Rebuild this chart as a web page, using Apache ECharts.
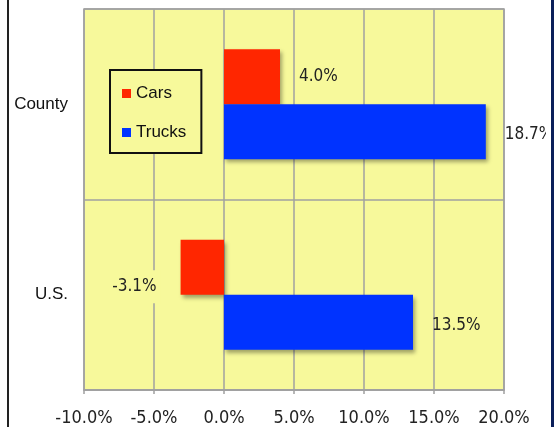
<!DOCTYPE html>
<html>
<head>
    <meta charset="utf-8">
    <title>County vs U.S.</title>
    <script src="https://cdn.jsdelivr.net/npm/echarts@6/dist/echarts.min.js"></script>
    <style>
        html, body { margin: 0; padding: 0; background: #fff; }
    </style>
</head>
<body>
    <div id="main" style="width: 557px;height:427px;"></div>
    <script type="text/javascript">
        // data
        var categories = ['U.S.', 'County'];
        var cars = [-3.1, 4.0];
        var trucks = [13.5, 18.7];
        var seriesNames = ['Cars', 'Trucks'];

        var yellow = '#F7F99B';
        var numFont = "'DejaVu Sans Condensed', 'DejaVu Sans', sans-serif";
        var textFont = "'Liberation Sans', Arial, sans-serif";
        var myChart = echarts.init(document.getElementById('main'));

        function pct(v) {
            return v.toFixed(1) + '%';
        }

        var barShadow = {
            shadowBlur: 4,
            shadowOffsetX: 2,
            shadowOffsetY: 3,
            shadowColor: 'rgba(0,0,0,0.35)'
        };

        var option = {
            backgroundColor: '#fff',
            animation: false,
            grid: {
                left: 84,
                right: 53,
                top: 9,
                bottom: 34,
                show: true,
                backgroundColor: yellow,
                borderColor: '#A0A0A0',
                borderWidth: 1.5
            },
            legend: {
                orient: 'vertical',
                left: 110,
                top: 70,
                data: seriesNames,
                icon: 'rect',
                itemWidth: 9,
                itemHeight: 9,
                itemGap: 22,
                padding: [15, 15, 12, 12],
                backgroundColor: yellow,
                borderColor: '#111',
                borderWidth: 2,
                selectedMode: false,
                textStyle: {
                    fontFamily: textFont,
                    fontSize: 17,
                    color: '#111'
                }
            },
            xAxis: {
                type: 'value',
                min: -10,
                max: 20,
                interval: 5,
                axisLine: { show: true, lineStyle: { color: '#A0A0A0', width: 1.5 } },
                axisTick: { show: true, length: 4, lineStyle: { color: '#A0A0A0', width: 1.5 } },
                splitLine: { show: true, lineStyle: { color: '#A0A0A0', width: 1.5 } },
                axisLabel: {
                    margin: 19,
                    fontFamily: numFont,
                    fontSize: 18,
                    color: '#222',
                    formatter: pct
                }
            },
            yAxis: {
                type: 'category',
                data: categories,
                axisLine: { show: false },
                axisTick: { show: false },
                splitLine: { show: true, lineStyle: { color: '#A0A0A0', width: 1.5 } },
                axisLabel: {
                    margin: 16,
                    fontFamily: textFont,
                    fontSize: 17,
                    color: '#111',
                    padding: [8, 0, 0, 0]
                }
            },
            series: [
                {
                    name: 'Cars',
                    type: 'bar',
                    data: cars,
                    barWidth: 55,
                    barGap: '0%',
                    itemStyle: Object.assign({ color: '#FF2600' }, barShadow),
                    label: {
                        show: true,
                        position: 'right',
                        distance: 15,
                        offset: [0, 3],
                        fontFamily: numFont,
                        fontSize: 17,
                        color: '#222',
                        backgroundColor: yellow,
                        padding: [8, 4],
                        formatter: function (p) { return pct(p.value); }
                    },
                    labelLayout: function (params) {
                        // negative value label goes to the left of the bar
                        if (params.dataIndex === 0) {
                            return { x: params.rect.x - 20 - params.labelRect.width, align: 'left' };
                        }
                    }
                },
                {
                    name: 'Trucks',
                    type: 'bar',
                    data: trucks,
                    barWidth: 55,
                    barGap: '0%',
                    itemStyle: Object.assign({ color: '#0033FF' }, barShadow),
                    label: {
                        show: true,
                        position: 'right',
                        distance: 19,
                        offset: [0, 3],
                        fontFamily: numFont,
                        fontSize: 17,
                        color: '#222',
                        formatter: function (p) { return pct(p.value); }
                    }
                }
            ],
            graphic: [
                {
                    type: 'rect',
                    z: 100,
                    shape: { x: 546, y: 0, width: 6, height: 427 },
                    style: { fill: '#fff' }
                },
                {
                    type: 'rect',
                    z: 101,
                    shape: { x: 551, y: 0, width: 3, height: 427 },
                    style: { fill: '#0B1F5A' }
                },
                {
                    type: 'rect',
                    z: 101,
                    shape: { x: 7, y: 0, width: 2, height: 427 },
                    style: { fill: '#222' }
                }
            ]
        };

        myChart.setOption(option);
    </script>
</body>
</html>
